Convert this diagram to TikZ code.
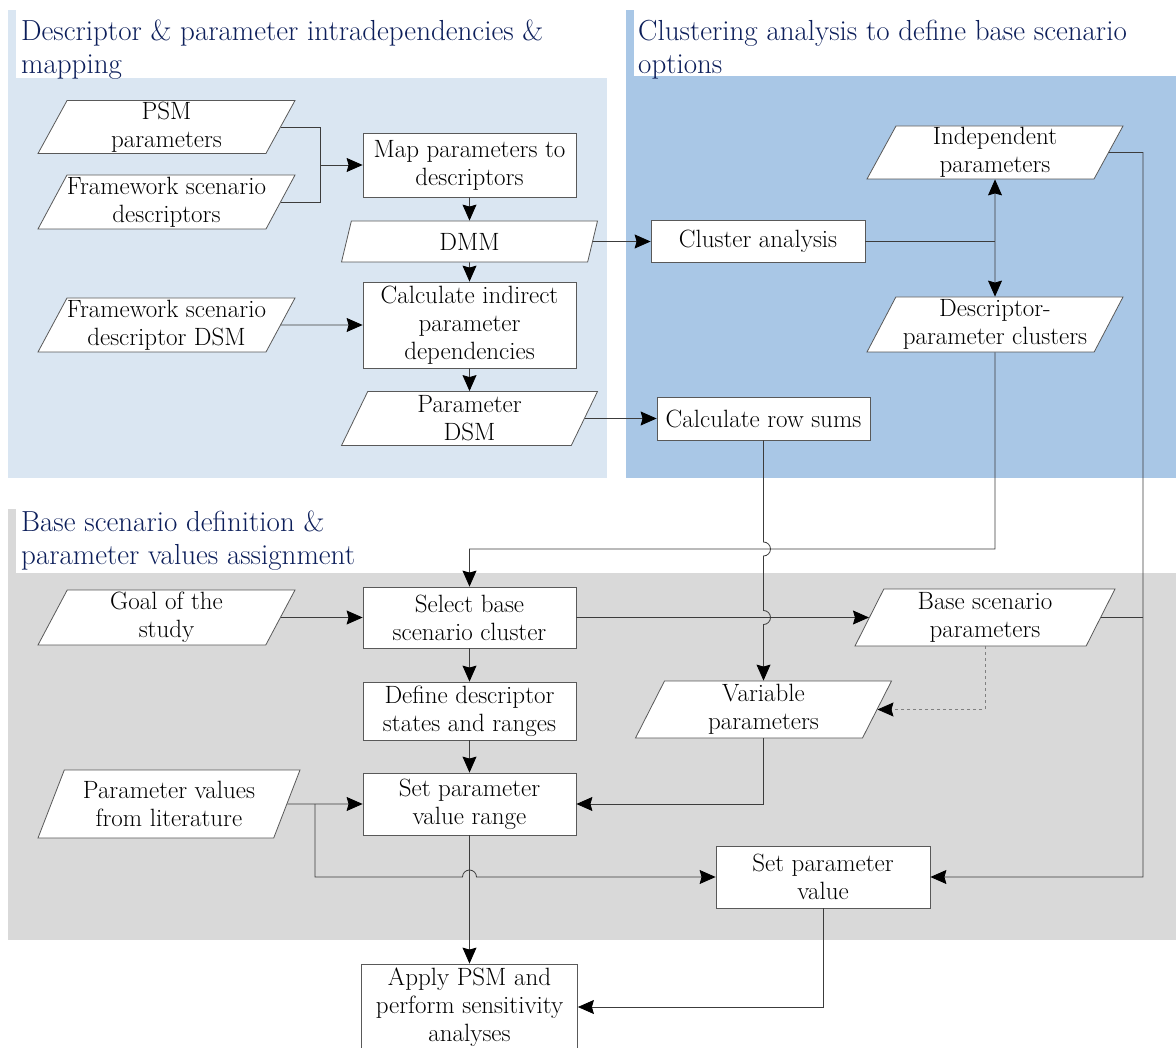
\documentclass[tikz,border=0pt]{standalone}
\usetikzlibrary{arrows.meta,shapes.geometric,calc}

\definecolor{paneA}{RGB}{218,230,242}
\definecolor{paneB}{RGB}{169,199,230}
\definecolor{paneC}{RGB}{217,217,217}
\definecolor{headblue}{RGB}{12,30,90}
\definecolor{linegray}{RGB}{60,60,60}

\begin{document}
\begin{tikzpicture}[x=1pt,y=-1pt,
  font=\fontsize{25}{28}\selectfont,
  proc/.style={draw=black!65, fill=white, line width=0.8pt, align=center,
    minimum width=213pt, inner sep=1pt},
  data/.style={trapezium, trapezium left angle=60, trapezium right angle=120,
    trapezium stretches body, draw=black!65, fill=white, line width=0.8pt,
    align=center, minimum width=257pt, inner sep=0pt},
  link/.style={draw=linegray, line width=0.8pt},
  arr/.style={link, -{Stealth[length=16pt,width=14pt,inset=2pt,black]}},
  title/.style={anchor=north west, align=left, text=headblue,
    font=\fontsize{29}{33}\selectfont, inner sep=0pt}]

   \useasboundingbox (0,0) rectangle (1176,1048);

   \fill[paneA] (8,78) rectangle (607,478);
   \fill[paneA] (8,10) rectangle (16,78);
   \fill[paneB] (626,76) rectangle (1176,478);
   \fill[paneB] (626,10) rectangle (634,76);
   \fill[paneC] (8,573) rectangle (1176,940);
   \fill[paneC] (8,509) rectangle (16,573);

   \node[title] (hdmap) at (21,20) {Descriptor \& parameter intradependencies \&\\mapping};
   \node[title] (hdclus) at (638,20) {Clustering analysis to define base scenario\\options};
   \node[title] (hdbase) at (21,511) {Base scenario definition \&\\parameter values assignment};

   \node[data, minimum height=53pt] (psm) at (166.5,127) {PSM\\parameters};
   \node[data, minimum height=54pt] (fsd) at (166.5,202) {Framework scenario\\descriptors};
   \node[proc, minimum height=64pt] (map) at (469.5,165) {Map parameters to\\descriptors};
   \node[data, minimum width=256pt, minimum height=41pt] (dmm) at (469.5,241.5) {DMM};
   \node[data, minimum height=54pt] (fsdsm) at (166.5,325) {Framework scenario\\descriptor DSM};
   \node[proc, minimum height=86pt] (calc) at (469.5,325) {Calculate indirect\\parameter\\dependencies};
   \node[data, minimum width=256pt, minimum height=54pt] (pdsm) at (469.5,418.5) {Parameter\\DSM};

   \node[data, minimum width=256pt, minimum height=53pt] (indep) at (995,152.5) {Independent\\parameters};
   \node[proc, minimum width=214pt, minimum height=42pt] (cluster) at (758,241.5) {Cluster analysis};
   \node[data, minimum width=256pt, minimum height=55pt] (clusters) at (995,324.5) {Descriptor-\\parameter clusters};
   \node[proc, minimum height=43pt] (rowsum) at (763.5,418.5) {Calculate row sums};

   \node[data, minimum height=55pt] (goal) at (166.5,617.5) {Goal of the\\study};
   \node[proc, minimum height=61pt] (select) at (469.5,617.5) {Select base\\scenario cluster};
   \node[data, minimum width=260pt, minimum height=57pt] (bsp) at (985,617.5) {Base scenario\\parameters};
   \node[proc, minimum height=58pt] (define) at (469.5,711) {Define descriptor\\states and ranges};
   \node[data, minimum width=256pt, minimum height=57pt] (var) at (763.5,709.5) {Variable\\parameters};
   \node[data, minimum width=262pt, minimum height=68pt] (pvl) at (169,804) {Parameter values\\from literature};
   \node[proc, minimum height=62pt] (setrange) at (469.5,804) {Set parameter\\value range};
   \node[proc, minimum width=214pt, minimum height=62pt] (setval) at (823,877) {Set parameter\\value};
   \node[proc, minimum width=216pt, minimum height=86pt] (apply) at (469.5,1007) {Apply PSM and\\perform sensitivity\\analyses};

   \coordinate (merge) at (320,165);
   \coordinate (fork) at (995,241.5);
   \coordinate (rail) at (1143,152.5);
   \coordinate (bend) at (995,549);
   \coordinate (split) at (315,804);
   \coordinate (hopA) at (rowsum.south |- bend);
   \coordinate (hopB) at (rowsum.south |- select.east);
   \coordinate (hopC) at (setrange.south |- setval.west);

   \draw[link] (psm.east) -| (merge);
   \draw[link] (fsd.east) -| (merge);
   \draw[arr] (merge) -- (map.west);
   \draw[arr] (map.south) -- (dmm.north);
   \draw[arr] (dmm.south) -- (calc.north);
   \draw[arr] (fsdsm.east) -- (calc.west);
   \draw[arr] (calc.south) -- (pdsm.north);
   \draw[arr] (dmm.east) -- (cluster.west);
   \draw[arr] (pdsm.east) -- (rowsum.west);

   \draw[link] (cluster.east) -- (fork);
   \draw[arr] (fork) -- (indep.south);
   \draw[arr] (fork) -- (clusters.north);
   \draw[arr] (indep.east) -- (rail) |- (setval.east);
   \draw[link] (bsp.east) -- (bsp.east -| rail);
   \draw[arr] (clusters.south) -- (bend) -| (select.north);
   \draw[arr] (rowsum.south) -- ([yshift=7pt]hopA) arc[start angle=90, end angle=-90, radius=7pt]
      -- ([yshift=7pt]hopB) arc[start angle=90, end angle=-90, radius=7pt] -- (var.north);

   \draw[arr] (goal.east) -- (select.west);
   \draw[arr] (select.east) -- (bsp.west);
   \draw[arr] (select.south) -- (define.north);
   \draw[arr] (define.south) -- (setrange.north);
   \draw[arr] (var.south) |- (setrange.east);
   \draw[arr, dashed, draw=black!50] (bsp.south) |- (var.east);
   \draw[arr] (pvl.east) -- (setrange.west);
   \draw[arr] (split) -- (split |- setval.west) -- ([xshift=-7pt]hopC)
      arc[start angle=180, end angle=0, radius=7pt] -- (setval.west);
   \draw[arr] (setrange.south) -- (apply.north);
   \draw[arr] (setval.south) |- (apply.east);

\end{tikzpicture}
\end{document}
